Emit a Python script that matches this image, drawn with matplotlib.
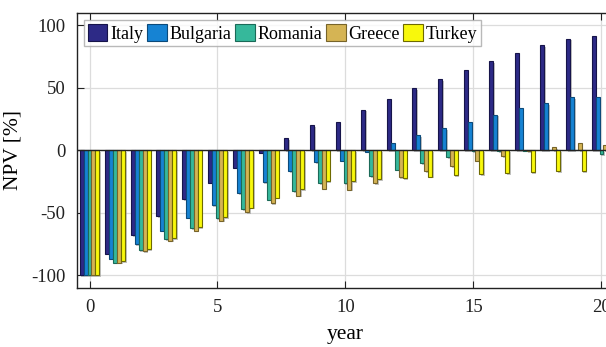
import numpy as np
import matplotlib
matplotlib.use("Agg")
import matplotlib.pyplot as plt
import matplotlib.patheffects as pe

years = np.arange(0, 21)
countries = ["Italy", "Bulgaria", "Romania", "Greece", "Turkey"]

italy = [-100, -83, -68, -53, -39, -26, -14, -2, 9.5, 20, 23, 32.5, 41, 49.5, 57, 64.5, 71.5, 78, 84, 89.5, 91.5]
bulgaria = [-100, -87, -75.5, -64.5, -54, -44, -34.5, -25.5, -17, -9.3, -8.3, -1.2, 5.5, 12, 17.5, 23, 28.5, 33.5, 38, 42.5, 43]
romania = [-100, -90, -80, -71, -62.5, -54.5, -47, -39.5, -33, -26.5, -26.5, -21, -15.5, -10.5, -5.6, -1, -0.7, -0.4, -0.2, -0.2, -3.2]
greece = [-100, -90, -81, -72.5, -64.5, -56.5, -49.5, -42.5, -36.5, -30.7, -31.5, -26.5, -21.6, -17, -12.5, -8.4, -4.6, -1, 2.3, 5.5, 4.6]
turkey = [-100, -89, -79.5, -70.5, -61.5, -53.5, -46, -38, -31, -24.8, -24.8, -23.4, -22.4, -21.3, -20.2, -19.2, -18.4, -17.7, -17, -16.5, -16]
series = [italy, bulgaria, romania, greece, turkey]

faces = ["#2d2a86", "#1683d3", "#36b89b", "#d5b454", "#f8f80c"]
edges = ["#16144a", "#0c4a7a", "#1b6a58", "#77642a", "#6e6a00"]

plt.rcParams["font.family"] = ["Liberation Serif", "DejaVu Serif"]
plt.rcParams["font.size"] = 13
plt.rcParams["axes.unicode_minus"] = False

fig = plt.figure(figsize=(6.06, 3.47), dpi=100)
ax = fig.add_axes([76.7 / 606, 1 - 287.5 / 347, 537.6 / 606, 274.5 / 347])

n = len(series)
group_w = min(0.8, n / (n + 1.5))
bar_w = group_w / n
shadow = [pe.SimplePatchShadow(offset=(1.2, -1.2), shadow_rgbFace="#9a9a9a", alpha=0.6), pe.Normal()]
for i, (vals, name) in enumerate(zip(series, countries)):
    x = years + (i - (n - 1) / 2) * bar_w
    ax.bar(x, vals, width=bar_w, color=faces[i], edgecolor=edges[i],
           linewidth=0.8, label=name, zorder=3, path_effects=shadow)

ax.axhline(0, color="#222222", linewidth=1.0, zorder=4)

ax.set_xlim(-0.5, 20.5)
ax.set_ylim(-110, 110)
ax.set_xticks([0, 5, 10, 15, 20])
ax.set_yticks([-100, -50, 0, 50, 100])
ax.grid(True, color="#dcdcdc", linewidth=0.9, zorder=0)
ax.set_axisbelow(True)
ax.tick_params(direction="in", length=5, width=0.8, top=True, right=True,
               colors="#222222", labelcolor="#222222", labelsize=13.5, pad=8)
for s in ax.spines.values():
    s.set_color("#222222")
    s.set_linewidth(1.0)

ax.set_xlabel("year", fontsize=15.5, labelpad=7)
ax.set_ylabel("NPV [%]", fontsize=15.5, labelpad=6)

leg = ax.legend(loc="upper left", ncol=5, frameon=True, fancybox=False,
                borderaxespad=0.4, handlelength=1.1, handleheight=1.1,
                handletextpad=0.15, columnspacing=0.2, borderpad=0.2,
                fontsize=13)
leg.get_frame().set_edgecolor("#a8a8a8")
leg.get_frame().set_linewidth(1.0)
for h in leg.legend_handles:
    h.set_path_effects([])

fig.savefig("out.png", dpi=100)
